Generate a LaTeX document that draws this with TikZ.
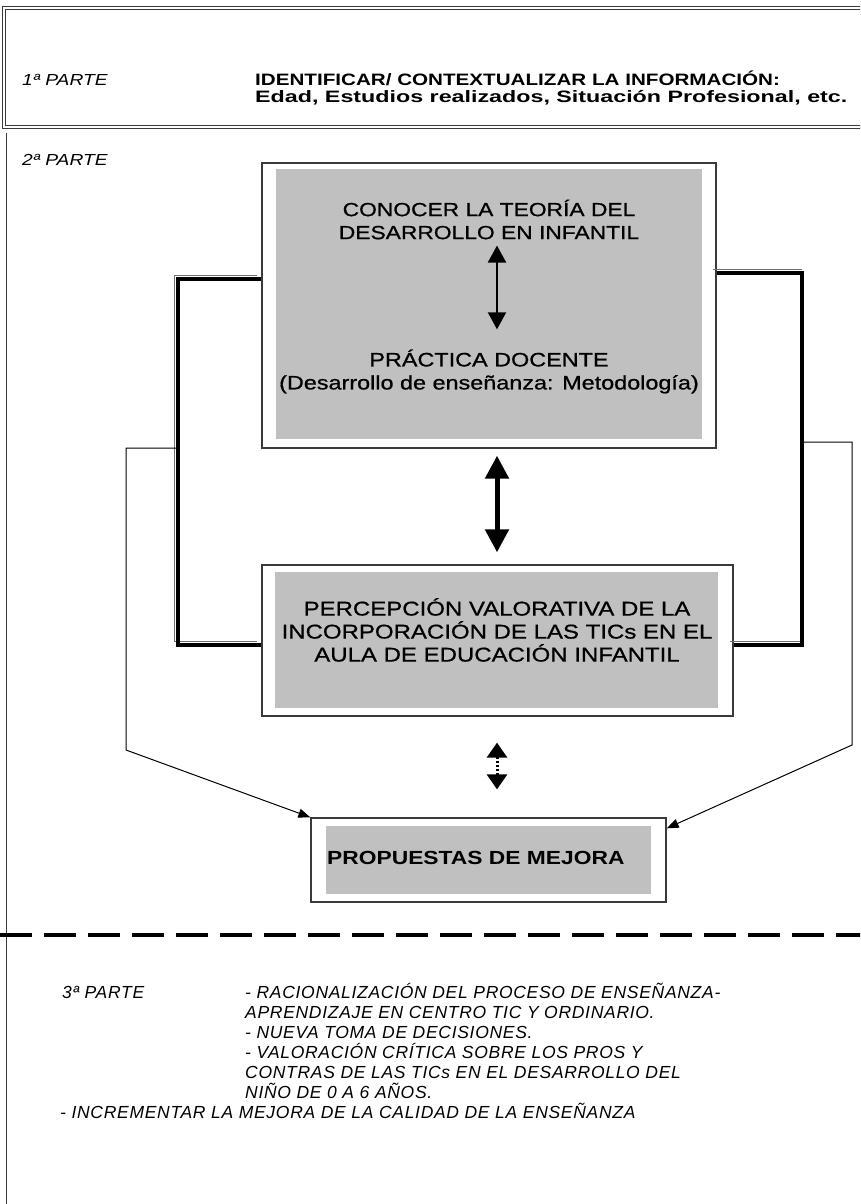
\documentclass[tikz,border=0pt]{standalone}
\usepackage{fontspec}
\setmainfont{Liberation Sans}[FakeStretch=1.2]
\newfontfamily\titlefont{Liberation Sans}[FakeStretch=1.25]
\newfontfamily\subtitlefont{Liberation Sans}[FakeStretch=1.41]
\newfontfamily\boxfont{Liberation Sans}[FakeStretch=1.2, FakeBold=0.8]
\newfontfamily\notefont{Liberation Sans}[LetterSpace=4]
\usetikzlibrary{arrows.meta, positioning, calc}
\definecolor{panelGray}{HTML}{C0C0C0}
\definecolor{edgeGray}{HTML}{3A3A3A}
\definecolor{shadeGray}{HTML}{707070}
\tikzset{
  >={Triangle[width=9pt,length=12pt]},
  frame/.style={draw=edgeGray, line width=0.8pt},
  outerbox/.style={draw=edgeGray, line width=1.3pt, fill=white, inner sep=0pt},
  panel/.style={fill=panelGray, inner sep=0pt},
  boxtext/.style={align=center, inner sep=0pt, font=\boxfont\fontsize{19}{23}\selectfont},
  parte/.style={inner sep=0pt, font=\fontsize{16}{20}\selectfont\itshape},
  note/.style={inner sep=0pt, anchor=base west, font=\notefont\fontsize{17.5}{20}\selectfont\itshape},
  bracket/.style={line width=4pt, line join=miter},
  bracketshade/.style={draw=shadeGray, line width=0.8pt,
    transform canvas={xshift=-4pt, yshift=4pt}},
  feed/.style={->, line width=1pt, draw=black},
  twoway/.style={{Triangle[width=18pt,length=17pt]}-{Triangle[width=18pt,length=17pt]},
    line width=2pt},
  bigtwoway/.style={{Triangle[width=23pt,length=23pt]}-{Triangle[width=23pt,length=23pt]},
    line width=5pt},
  dottwoway/.style={{Triangle[width=20pt,length=15pt]}-{Triangle[width=20pt,length=15pt]},
    line width=3pt, dash pattern=on 2pt off 2pt},
  separator/.style={line width=4pt, dash pattern=on 32pt off 12pt},
}
\begin{document}
\begin{tikzpicture}[x=1pt, y=-1pt]
  \useasboundingbox (0,0) rectangle (860,1204);
  \clip (0,0) rectangle (860,1204);

  % ---- 1a parte -------------------------------------------------------------
  \draw[frame, double, double distance=2pt] (4,8) rectangle (900,127);
  \node[parte, anchor=base west] (parte1) at (22,85.5) {1ª PARTE};
  \node[anchor=west, align=left, inner sep=0pt,
        font=\titlefont\bfseries\fontsize{16.5}{17}\selectfont] (ident) at (255,88)
    {IDENTIFICAR/ CONTEXTUALIZAR LA INFORMACIÓN:\\
     \subtitlefont\bfseries Edad, Estudios realizados, Situación Profesional, etc.};

  % ---- 2a parte -------------------------------------------------------------
  \draw[frame] (6,133) -- (6,1210);
  \node[parte, anchor=base west] (parte2) at (22,165.5) {2ª PARTE};

  \node[outerbox, minimum width=454pt, minimum height=285pt] (box1) at (489,305.5) {};
  \node[panel, minimum width=426pt, minimum height=270pt] (panel1) at (489,304) {};
  \node[boxtext] (theory) at (489,219.5) {CONOCER LA TEORÍA DEL\\DESARROLLO EN INFANTIL};
  \node[boxtext, font=\boxfont\fontsize{19.5}{23}\selectfont] (practice) at (489,371.5)
    {PRÁCTICA DOCENTE\\(Desarrollo de enseñanza: Metodología)};

  \node[outerbox, minimum width=471pt, minimum height=151pt] (box2) at (497.5,640.5) {};
  \node[panel, minimum width=443pt, minimum height=136pt] (panel2) at (496.5,640) {};
  \node[boxtext, font=\boxfont\fontsize{20}{23}\selectfont] (percep) at (497,630)
    {PERCEPCIÓN VALORATIVA DE LA\\INCORPORACIÓN DE LAS TICs EN EL\\AULA DE EDUCACIÓN INFANTIL};

  \node[outerbox, minimum width=355pt, minimum height=84pt] (box3) at (488.5,860) {};
  \node[panel, minimum width=325pt, minimum height=68pt] (panel3) at (488.5,860) {};
  \node[anchor=west, inner sep=0pt, font=\fontsize{19}{23}\selectfont\bfseries] (mejora)
    at (327,858) {PROPUESTAS DE MEJORA};

  % vertical links
  \coordinate (axis) at (497,0);
  \draw[twoway, shorten <=6pt, shorten >=20pt] (theory.south -| axis) -- (practice.north -| axis);
  \draw[bigtwoway, shorten <=7pt, shorten >=12pt] (box1.south -| axis) -- (box2.north -| axis);
  \draw[dottwoway, shorten <=26pt, shorten >=28pt] (box2.south -| axis) -- (box3.north -| axis);

  % side brackets joining box1 and box2
  \draw[bracketshade] (box1.west |- 0,279) -| (178,645) -- (box2.west |- 0,645);
  \draw[bracket] (box1.west |- 0,279) -| (178,645) -- (box2.west |- 0,645);
  \draw[bracketshade] (box1.east |- 0,273) -- (806,273);
  \draw[bracketshade] (box2.east |- 0,645) -- (806,645);
  \draw[bracket] (box1.east |- 0,273) -| (802,645) -- (box2.east |- 0,645);

  % feedback into the proposals
  \coordinate (lfork) at (178,448);
  \coordinate (rfork) at (802,442);
  \draw[feed] (lfork) -| (126,750) -- (box3.north west);
  \draw[feed] (rfork) -| (852,745) -- ([yshift=-11pt]box3.north east);

  % ---- 3a parte -------------------------------------------------------------
  \draw[separator] (0,935) -- (870,935);
  \node[note] (parte3) at (62,998.5) {3ª PARTE};
  \node[note] (goal1) at (245,998.5) {- RACIONALIZACIÓN DEL PROCESO DE ENSEÑANZA-};
  \node[note] (goal2) at ([yshift=-20pt]goal1.base west) {APRENDIZAJE EN CENTRO TIC Y ORDINARIO.};
  \node[note] (goal3) at ([yshift=-20pt]goal2.base west) {- NUEVA TOMA DE DECISIONES.};
  \node[note] (goal4) at ([yshift=-20pt]goal3.base west) {- VALORACIÓN CRÍTICA SOBRE LOS PROS Y};
  \node[note] (goal5) at ([yshift=-20pt]goal4.base west) {CONTRAS DE LAS TICs EN EL DESARROLLO DEL};
  \node[note] (goal6) at ([yshift=-20pt]goal5.base west) {NIÑO DE 0 A 6 AÑOS.};
  \node[note] (quality) at (60,1118.5)
    {- INCREMENTAR LA MEJORA DE LA CALIDAD DE LA ENSEÑANZA};
\end{tikzpicture}
\end{document}
